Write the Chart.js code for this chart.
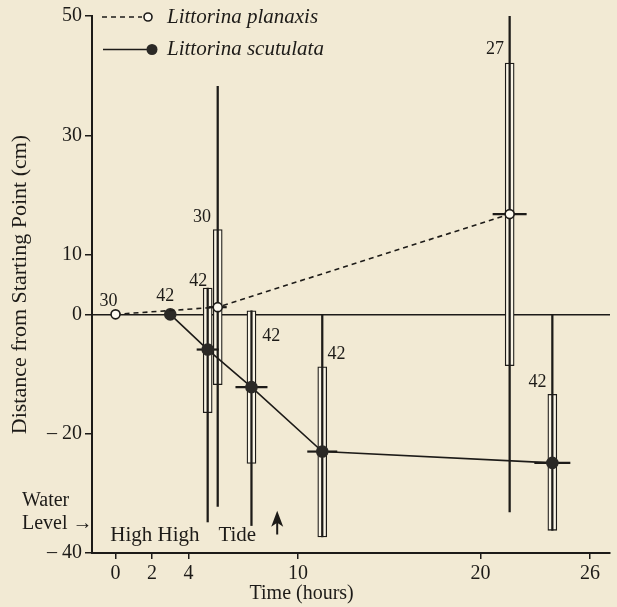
<!DOCTYPE html>
<html><head><meta charset="utf-8">
<script src="https://cdn.jsdelivr.net/npm/chart.js@4.4.1/dist/chart.umd.min.js"></script>
<style>html,body{margin:0;padding:0;background:#f2ead4;}#wrap{width:617px;height:607px;position:relative}</style>
</head><body><div id="wrap"><canvas id="c" width="617" height="607"></canvas></div>
<script>
const seriesNames = ['Littorina planaxis', 'Littorina scutulata'];
const planaxisTime = [0, 5.6, 21.6];
const planaxisMean = [0, 1.2, 16.8];
const scutulataTime = [3.0, 5.05, 7.45, 11.33, 23.94];
const scutulataMean = [0, -5.9, -12.2, -23.0, -24.9];
const barTime = [5.05, 5.6, 7.45, 11.33, 21.6, 23.94];
const boxLow = [-16.5, -11.8, -25.0, -37.3, -8.6, -36.2];
const boxHigh = [4.4, 14.2, 0.6, -8.8, 42.1, -13.4];
const rangeLow = [-34.8, -32.2, -35.4, -37.3, -33.1, -36.2];
const rangeHigh = [4.4, 38.2, 0.6, 0, 50.3, 0];
const barMean = [-5.9, 1.2, -12.2, -23.0, 16.8, -24.9];
const sampleSizes = ['30', '42', '42', '30', '42', '42', '27', '42'];
const sampleTime = [-0.39, 2.73, 4.54, 4.74, 8.53, 12.11, 20.8, 23.12];
const sampleDist = [2.26, 3.10, 5.61, 16.3, -3.65, -6.62, 44.5, -11.36];
const xTicks = [0, 2, 4, 10, 20, 26];
const xTickLabels = ['0', '2', '4', '10', '20', '26'];
const yTicks = [-40, -20, 0, 10, 30, 50];
const yTickLabels = ['\u2013 40', '\u2013 20', '0', '10', '30', '50'];
const xTitle = 'Time (hours)';
const yTitle = 'Distance from Starting Point (cm)';
const waterLabel = ['Water', 'Level \u2192'];
const tideLabel = ['High High', 'Tide'];

const ink = '#1d1b18';
const boxFill = '#faf5e6';
const serif = '"Liberation Serif", "DejaVu Serif", serif';

const notes = {
  id: 'notes',
  afterDatasetsDraw(chart) {
    const {ctx, scales: {x, y}, chartArea} = chart;
    ctx.save();
    ctx.fillStyle = ink; ctx.strokeStyle = ink;
    ctx.textBaseline = 'middle';
    // sample sizes
    ctx.font = '18px ' + serif; ctx.textAlign = 'center';
    sampleSizes.forEach((s, i) => ctx.fillText(s, x.getPixelForValue(sampleTime[i]), y.getPixelForValue(sampleDist[i])));
    // legend
    const lx = chartArea.left;
    ctx.lineWidth = 1.6;
    ctx.setLineDash([5, 4]);
    ctx.beginPath(); ctx.moveTo(lx + 10, chartArea.top + 1); ctx.lineTo(lx + 50, chartArea.top + 1); ctx.stroke();
    ctx.setLineDash([]);
    ctx.beginPath(); ctx.arc(lx + 56, chartArea.top + 1, 4, 0, Math.PI * 2); ctx.fillStyle = '#fdfaf0'; ctx.fill(); ctx.stroke();
    ctx.beginPath(); ctx.moveTo(lx + 11, chartArea.top + 33.5); ctx.lineTo(lx + 56, chartArea.top + 33.5); ctx.stroke();
    ctx.fillStyle = '#2b2926';
    ctx.beginPath(); ctx.arc(lx + 60, chartArea.top + 33.5, 5.5, 0, Math.PI * 2); ctx.fill();
    ctx.fillStyle = ink;
    ctx.font = 'italic 21px ' + serif; ctx.textAlign = 'left';
    ctx.fillText(seriesNames[0], lx + 75, chartArea.top + 1);
    ctx.fillText(seriesNames[1], lx + 75, chartArea.top + 33);
    // water level
    ctx.font = '20px ' + serif;
    ctx.fillText(waterLabel[0], 22, y.getPixelForValue(-31.3));
    ctx.fillText(waterLabel[1], 22, y.getPixelForValue(-35.1));
    // tide text
    ctx.font = '21px ' + serif;
    ctx.fillText(tideLabel[0], x.getPixelForValue(-0.29), y.getPixelForValue(-37.1));
    ctx.fillText(tideLabel[1], x.getPixelForValue(5.64), y.getPixelForValue(-37.1));
    // up arrow
    const ax = x.getPixelForValue(8.86), ay = y.getPixelForValue(-32.9), ab = y.getPixelForValue(-36.9);
    ctx.beginPath();
    ctx.moveTo(ax, ay); ctx.lineTo(ax + 6, ay + 16); ctx.lineTo(ax, ay + 12); ctx.lineTo(ax - 6, ay + 16); ctx.closePath(); ctx.fill();
    ctx.lineWidth = 2; ctx.beginPath(); ctx.moveTo(ax, ay + 10); ctx.lineTo(ax, ab); ctx.stroke();
    // x title
    ctx.font = '20px ' + serif; ctx.textAlign = 'center';
    ctx.fillText(xTitle, x.getPixelForValue(10.2), chartArea.bottom + 41);
    ctx.restore();
  }
};

new Chart(document.getElementById('c'), {
  type: 'bar',
  data: {
    datasets: [
      {type: 'line', label: seriesNames[0], data: planaxisTime.map((t, i) => ({x: t, y: planaxisMean[i]})),
       borderColor: ink, borderWidth: 1.6, borderDash: [5, 4], pointRadius: 4.5, pointBackgroundColor: '#fdfaf0',
       pointBorderColor: ink, pointBorderWidth: 1.6, order: 1},
      {type: 'line', label: seriesNames[1], data: scutulataTime.map((t, i) => ({x: t, y: scutulataMean[i]})),
       borderColor: ink, borderWidth: 1.6, pointRadius: 5.5, pointBackgroundColor: '#2b2926',
       pointBorderColor: '#2b2926', order: 1},
      {type: 'scatter', label: 'mean', data: barTime.map((t, i) => ({x: t, y: barMean[i]})), pointStyle: 'line',
       pointRadius: [11, 9, 16, 15, 17, 18], pointBorderColor: ink, borderColor: ink, pointBorderWidth: 2.2, order: 2},
      {type: 'bar', label: 'range', data: barTime.map((t, i) => ({x: t, y: [rangeLow[i], rangeHigh[i]]})),
       barThickness: 1.6, backgroundColor: ink, grouped: false, order: 3},
      {type: 'bar', label: 'box', data: barTime.map((t, i) => ({x: t, y: [boxLow[i], boxHigh[i]]})),
       barThickness: 9, backgroundColor: boxFill, borderColor: ink, borderWidth: 1.3, borderSkipped: false,
       grouped: false, order: 4}
    ]
  },
  options: {
    responsive: false, animation: false, maintainAspectRatio: false,
    layout: {autoPadding: false, padding: {top: 16, right: 7, left: 0, bottom: 0}},
    plugins: {legend: {display: false}, tooltip: {enabled: false}},
    scales: {
      x: {type: 'linear', min: -1.29, max: 27.1, offset: false,
          afterBuildTicks: s => { s.ticks = xTicks.map(v => ({value: v})); },
          ticks: {callback: v => xTickLabels[xTicks.indexOf(v)], font: {family: serif, size: 20}, color: ink,
                  padding: 3, maxRotation: 0, autoSkip: false},
          grid: {drawOnChartArea: false, tickColor: ink, tickLength: 6, offset: false, lineWidth: 1.5},
          border: {color: ink, width: 2},
          afterFit: s => { s.height = 54; s.paddingLeft = 0; s.paddingRight = 0; }},
      y: {min: -40, max: 50,
          afterBuildTicks: s => { s.ticks = yTicks.map(v => ({value: v})); },
          ticks: {callback: v => yTickLabels[yTicks.indexOf(v)], font: {family: serif, size: 20}, color: ink,
                  padding: 3, autoSkip: false},
          grid: {color: c => (c.tick && c.tick.value === 0) ? ink : 'rgba(0,0,0,0)', lineWidth: 1.5,
                 tickColor: ink, tickLength: 7},
          border: {color: ink, width: 2},
          title: {display: true, text: yTitle, font: {family: serif, size: 22}, color: ink, padding: {top: 7, bottom: 0}},
          afterFit: s => { s.width = 92; s.paddingTop = 0; s.paddingBottom = 0; }}
    }
  },
  plugins: [notes]
});
</script></body></html>
